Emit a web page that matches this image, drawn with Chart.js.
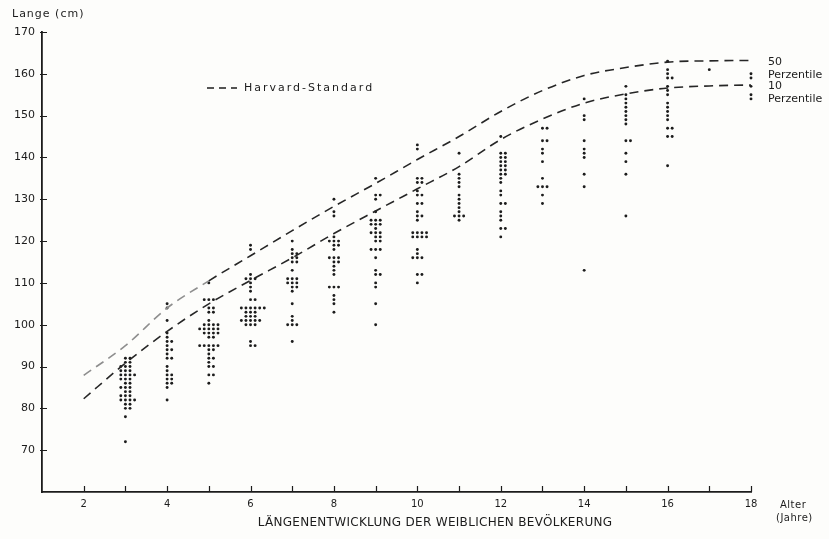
<!DOCTYPE html>
<html>
<head>
<meta charset="utf-8">
<script src="https://cdn.jsdelivr.net/npm/chart.js@4.4.1/dist/chart.umd.min.js"></script>
<style>
  html, body { margin: 0; padding: 0; background: #fdfdfb; }
  #wrap { width: 829px; height: 539px; }
</style>
</head>
<body>
<div id="wrap"><canvas id="chart" width="829" height="539"></canvas></div>
<script>
// Harvard-Standard (Alter in Jahren, Länge in cm)
const curveAges = [2, 3, 4, 5, 6, 7, 8, 9, 10, 11, 12, 13, 14, 15, 16, 17, 18, 18.2];
const p50 = [87.9, 95, 104, 110.5, 116.5, 122.5, 128.3, 133.8, 139.5, 145, 151, 156, 159.6, 161.5, 162.8, 163.1, 163.2, 163.2];
const p10 = [82.3, 90.8, 98.4, 105, 110.6, 116, 121.8, 127.2, 132.5, 137.8, 144.3, 149.2, 153, 155.2, 156.6, 157.1, 157.3, 157.3];

// Einzelmessungen je Altersjahr (cm)
const age3 = [92, 92, 91, 91, 90, 90, 90, 89, 89, 89, 88, 88, 88, 88, 87, 87, 87, 86, 86, 85, 85, 85, 84, 84, 83, 83, 83, 82, 82, 82, 82, 81, 81, 80, 80, 78, 72];
const age4 = [105, 104, 101, 98, 97, 96, 96, 95, 94, 94, 93, 92, 92, 90, 89, 88, 88, 87, 87, 86, 86, 85, 82];
const age5 = [110, 106, 106, 106, 104, 104, 103, 103, 101, 100, 100, 100, 100, 99, 99, 99, 99, 99, 98, 98, 98, 98, 97, 97, 95, 95, 95, 95, 95, 94, 94, 93, 92, 92, 91, 90, 90, 88, 88, 86];
const age6 = [119, 118, 112, 111, 111, 111, 110, 109, 108, 106, 106, 104, 104, 104, 104, 104, 104, 103, 103, 103, 102, 102, 102, 101, 101, 101, 101, 101, 100, 100, 100, 96, 95, 95];
const age7 = [120, 118, 117, 117, 116, 116, 115, 115, 113, 111, 111, 111, 110, 110, 110, 109, 109, 108, 105, 102, 101, 100, 100, 100, 96];
const age8 = [130, 127, 126, 121, 120, 120, 120, 119, 119, 118, 116, 116, 116, 115, 115, 114, 113, 112, 109, 109, 109, 107, 106, 105, 103];
const age9 = [135, 131, 131, 130, 127, 125, 125, 125, 124, 124, 124, 123, 122, 122, 122, 121, 121, 120, 120, 118, 118, 118, 116, 113, 112, 112, 110, 109, 105, 100];
const age10 = [143, 142, 135, 135, 134, 134, 132, 131, 131, 129, 129, 127, 126, 126, 125, 122, 122, 122, 122, 121, 121, 121, 121, 118, 117, 116, 116, 116, 112, 112, 110];
const age11 = [141, 136, 135, 134, 133, 131, 130, 129, 128, 127, 126, 126, 126, 125];
const age12 = [145, 141, 141, 140, 140, 139, 139, 138, 138, 137, 137, 136, 136, 135, 134, 132, 131, 129, 129, 127, 126, 125, 123, 123, 121];
const age13 = [147, 147, 144, 144, 142, 141, 139, 135, 133, 133, 133, 131, 129];
const age14 = [154, 150, 149, 144, 142, 141, 140, 136, 133, 113];
const age15 = [157, 155, 154, 153, 152, 151, 150, 149, 148, 144, 144, 141, 139, 136, 126];
const age16 = [163, 161, 160, 159, 159, 157, 156, 155, 153, 152, 151, 150, 149, 147, 147, 145, 145, 138];
const age17 = [161];
const age18 = [160, 159, 157, 155, 154];

const xTicks = [2, 4, 6, 8, 10, 12, 14, 16, 18];

// gleiche Werte nebeneinander setzen (Punktdiagramm)
function column(age, values) {
  const seen = {};
  return values.map(v => {
    const n = seen[v] = (seen[v] || 0) + 1;
    const k = n - 1;
    const off = k === 0 ? 0 : (k % 2 ? 1 : -1) * Math.ceil(k / 2) * 0.11;
    return { x: age + off, y: v };
  });
}

const allDots = [].concat(
  column(3, age3), column(4, age4), column(5, age5), column(6, age6),
  column(7, age7), column(8, age8), column(9, age9), column(10, age10),
  column(11, age11), column(12, age12), column(13, age13), column(14, age14),
  column(15, age15), column(16, age16), column(17, age17), column(18, age18)
);

const ink = '#1c1c1c';
const FONT = 'DejaVu Sans';
Chart.defaults.font.family = FONT;
Chart.defaults.color = ink;

// kurze Teilstriche an beiden Achsen
const tickPlugin = {
  id: 'tickMarks',
  afterDraw(chart) {
    const ctx = chart.ctx;
    const xs = chart.scales.x, ys = chart.scales.y;
    const area = chart.chartArea;
    ctx.save();
    ctx.strokeStyle = ink;
    ctx.lineWidth = 1.2;
    ctx.beginPath();
    xs.ticks.forEach(t => {
      if (t.value <= xs.min) return;
      const px = Math.round(xs.getPixelForValue(t.value)) + 0.5;
      ctx.moveTo(px, area.bottom);
      ctx.lineTo(px, area.bottom - 6);
    });
    ys.ticks.forEach(t => {
      if (t.value <= ys.min) return;
      const py = Math.round(ys.getPixelForValue(t.value)) + 0.5;
      ctx.moveTo(area.left - 2, py);
      ctx.lineTo(area.left + 5, py);
    });
    ctx.stroke();
    ctx.restore();
  }
};

// Zusatztexte (Achsentitel, Legende, Kurvenbeschriftung, Titel)
const textPlugin = {
  id: 'texts',
  afterDraw(chart) {
    const ctx = chart.ctx;
    const ys = chart.scales.y;
    const area = chart.chartArea;
    ctx.save();
    ctx.fillStyle = ink;
    ctx.textBaseline = 'middle';
    ctx.textAlign = 'left';
    ctx.font = '11px ' + FONT;
    ctx.letterSpacing = '1px';
    ctx.fillText('Lange (cm)', 12, 14);

    // rechts unten
    ctx.font = '10px ' + FONT;
    ctx.letterSpacing = '0.5px';
    ctx.fillText('Alter', area.right + 29, area.bottom + 13);
    ctx.fillText('(Jahre)', area.right + 25, area.bottom + 26);

    // Perzentile
    ctx.font = '11px ' + FONT;
    ctx.letterSpacing = '0px';
    const lx = area.right + 17;
    const y50 = ys.getPixelForValue(p50[p50.length - 1]);
    const y10 = ys.getPixelForValue(p10[p10.length - 1]);
    ctx.fillText('50', lx, y50 + 2);
    ctx.fillText('Perzentile', lx, y50 + 15);
    ctx.fillText('10', lx, y10 + 1);
    ctx.fillText('Perzentile', lx, y10 + 14);

    // Legende
    const legY = 88;
    ctx.strokeStyle = ink;
    ctx.lineWidth = 1.5;
    ctx.setLineDash([7, 5]);
    ctx.beginPath();
    ctx.moveTo(207, legY);
    ctx.lineTo(237, legY);
    ctx.stroke();
    ctx.setLineDash([]);
    ctx.letterSpacing = '2px';
    ctx.fillText('Harvard-Standard', 244, legY);

    // Titel
    ctx.textAlign = 'center';
    ctx.font = '12px ' + FONT;
    ctx.letterSpacing = '0.3px';
    ctx.fillText('LÄNGENENTWICKLUNG DER WEIBLICHEN BEVÖLKERUNG', 435, 523);
    ctx.restore();
  }
};

const curveStyle = {
  type: 'line',
  borderColor: '#262626',
  borderWidth: 1.6,
  borderDash: [9, 6],
  pointRadius: 0,
  fill: false,
  cubicInterpolationMode: 'monotone',
  clip: false
};

new Chart(document.getElementById('chart'), {
  type: 'scatter',
  data: {
    datasets: [
      Object.assign({
        label: '50 Perzentile',
        data: curveAges.map((a, i) => ({ x: a, y: p50[i] })),
        segment: { borderColor: c => c.p1.parsed.x <= 5 ? '#8e8e8e' : undefined }
      }, curveStyle),
      Object.assign({ label: '10 Perzentile', data: curveAges.map((a, i) => ({ x: a, y: p10[i] })) }, curveStyle),
      {
        label: 'Messwerte',
        data: allDots,
        pointRadius: 1.45,
        pointBackgroundColor: ink,
        pointBorderWidth: 0,
        clip: false
      }
    ]
  },
  options: {
    responsive: false,
    animation: false,
    devicePixelRatio: 1,
    layout: { padding: { left: 0, top: 32, right: 78, bottom: 0 } },
    plugins: { legend: { display: false }, tooltip: { enabled: false } },
    scales: {
      x: {
        type: 'linear',
        min: 1,
        max: 18,
        afterFit: s => { s.height = 47; },
        afterBuildTicks: s => { s.ticks = []; for (let v = 1; v <= 18; v++) s.ticks.push({ value: v }); },
        ticks: {
          padding: 6,
          font: { size: 10 },
          color: ink,
          maxRotation: 0,
          autoSkip: false,
          callback: v => xTicks.includes(v) ? String(v) : ''
        },
        grid: { drawOnChartArea: false, drawTicks: false },
        border: { color: ink, width: 1.8 }
      },
      y: {
        type: 'linear',
        min: 60,
        max: 170,
        afterFit: s => { s.width = 42; },
        ticks: {
          stepSize: 10,
          padding: 7,
          font: { size: 11 },
          color: ink,
          callback: v => v === 60 ? null : String(v)
        },
        grid: { drawOnChartArea: false, drawTicks: false },
        border: { color: ink, width: 1.8 }
      }
    }
  },
  plugins: [tickPlugin, textPlugin]
});
</script>
</body>
</html>
